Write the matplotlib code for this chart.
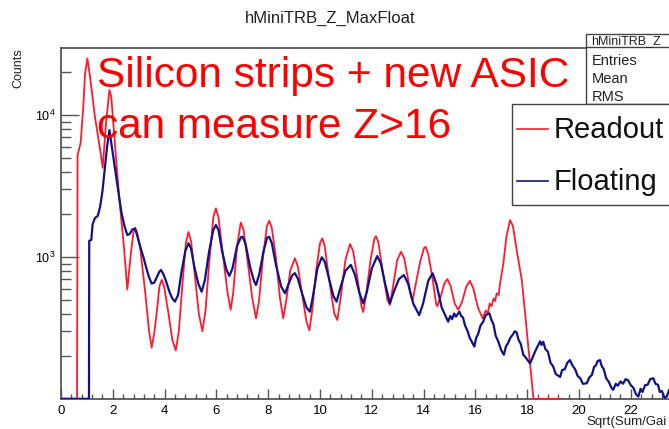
import numpy as np
import matplotlib
matplotlib.use("Agg")
import matplotlib.pyplot as plt
from matplotlib.patches import Rectangle
from matplotlib.lines import Line2D
from matplotlib.ticker import FixedLocator, MultipleLocator, NullFormatter

plt.rcParams['font.family'] = ['Liberation Sans', 'DejaVu Sans']
plt.rcParams['mathtext.fontset'] = 'custom'
plt.rcParams['mathtext.rm'] = 'Liberation Sans'
plt.rcParams['mathtext.it'] = 'Liberation Sans'

# ---- data: charge spectrum, Sqrt(Sum/Gain) vs counts ----
readout_x = [0.00, 0.62, 0.64, 0.76, 0.86, 0.93, 1.02, 1.12, 1.31, 1.51, 1.61, 1.74, 1.87, 1.94,
             2.02, 2.15, 2.28, 2.43, 2.56, 2.70, 2.80, 2.86, 2.93, 3.05, 3.24, 3.40, 3.50, 3.60,
             3.69, 3.80, 3.89, 3.98, 4.15, 4.30, 4.43, 4.55, 4.68, 4.82, 4.92, 5.02, 5.15, 5.32,
             5.46, 5.58, 5.72, 5.88, 5.98, 6.08, 6.25, 6.43, 6.55, 6.65, 6.80, 6.94, 7.05, 7.20,
             7.38, 7.53, 7.65, 7.80, 7.95, 8.04, 8.14, 8.30, 8.45, 8.58, 8.70, 8.85, 9.03, 9.15,
             9.30, 9.48, 9.59, 9.70, 9.85, 10.00, 10.09, 10.18, 10.35, 10.55, 10.67, 10.80, 10.98,
             11.16, 11.28, 11.45, 11.60, 11.67, 11.78, 11.95, 12.10, 12.16, 12.25, 12.42, 12.60,
             12.70, 12.82, 12.98, 13.13, 13.25, 13.40, 13.52, 13.58, 13.70, 13.88, 14.02, 14.08,
             14.18, 14.35, 14.48, 14.53, 14.65, 14.80, 14.92, 15.05, 15.20, 15.34, 15.48, 15.65,
             15.79, 15.92, 16.10, 16.28, 16.40, 16.48, 16.55, 16.62, 16.70, 16.76, 16.82, 16.90,
             16.95, 17.08, 17.20, 17.34, 17.45, 17.60, 17.79, 17.92, 18.04, 18.15, 18.24, 19.30]
readout_y = [0, 0, 5200, 6400, 11400, 19800, 25000, 18600, 9700, 5700, 4250, 8800, 15000, 13500,
             8750, 4330, 2260, 1180, 590, 1070, 1500, 1600, 1500, 1180, 590, 300, 230, 290,
             400, 620, 690, 620, 400, 260, 220, 300, 620, 1250, 1500, 1300, 800, 400,
             300, 420, 900, 1900, 2200, 1900, 1050, 560, 425, 560, 1200, 1750, 1550, 950,
             520, 370, 500, 1000, 1650, 1800, 1600, 980, 520, 370, 500, 800, 980, 850,
             560, 350, 305, 420, 800, 1250, 1355, 1200, 700, 400, 360, 520, 950,
             1235, 1100, 700, 450, 410, 540, 950, 1350, 1400, 1280, 800, 500,
             460, 620, 950, 1090, 980, 700, 520, 500, 650, 950, 1160, 1180,
             1050, 700, 470, 450, 520, 650, 700, 620, 470, 425, 480, 620,
             680, 600, 440, 370, 420, 400, 470, 450, 510, 490, 555, 540,
             650, 900, 1400, 1820, 1650, 1100, 690, 400, 235, 150, 0, 0]

floating_x = [0.00, 1.08, 1.09, 1.17, 1.22, 1.31, 1.42, 1.51, 1.60, 1.70, 1.78, 1.87, 1.95, 2.05,
              2.15, 2.25, 2.34, 2.45, 2.56, 2.65, 2.75, 2.86, 2.95, 3.05, 3.18, 3.30, 3.40, 3.50,
              3.60, 3.70, 3.80, 3.86, 3.95, 4.05, 4.20, 4.30, 4.40, 4.52, 4.65, 4.80, 4.92, 5.02,
              5.15, 5.30, 5.43, 5.55, 5.72, 5.88, 5.98, 6.08, 6.22, 6.38, 6.50, 6.62, 6.80, 6.95,
              7.01, 7.12, 7.30, 7.45, 7.53, 7.65, 7.82, 7.96, 8.04, 8.14, 8.30, 8.50, 8.65, 8.78,
              8.92, 9.03, 9.15, 9.30, 9.48, 9.61, 9.72, 9.90, 10.07, 10.18, 10.35, 10.52, 10.64,
              10.78, 10.98, 11.19, 11.35, 11.52, 11.67, 11.80, 12.00, 12.21, 12.35, 12.52, 12.70,
              12.85, 13.05, 13.24, 13.40, 13.60, 13.83, 13.98, 14.18, 14.35, 14.50, 14.70, 14.95,
              15.03, 15.10, 15.18, 15.25, 15.38, 15.45, 15.52, 15.60, 15.70, 15.78, 15.85, 15.96,
              16.03, 16.10, 16.20, 16.30, 16.40, 16.54, 16.62, 16.70, 16.78, 16.88, 17.00, 17.10,
              17.18, 17.25, 17.35, 17.45, 17.52, 17.59, 17.67, 17.75, 17.85, 17.95, 18.11, 18.20,
              18.30, 18.40, 18.50, 18.55, 18.62, 18.70, 18.80, 18.90, 19.00, 19.10, 19.27, 19.35,
              19.45, 19.55, 19.65, 19.75, 19.85, 19.95, 20.05, 20.15, 20.30, 20.40, 20.50, 20.58,
              20.65, 20.72, 20.81, 20.88, 20.95, 21.05, 21.15, 21.25, 21.32, 21.42, 21.50, 21.60,
              21.70, 21.80, 21.90, 22.00, 22.10, 22.20, 22.29, 22.38, 22.45, 22.55, 22.65, 22.75,
              22.87, 22.95, 23.05, 23.12, 23.20, 23.30, 23.39, 23.48, 23.60, 23.70, 23.80, 24.00,
              24.30, 24.60, 25.00]
floating_y = [0, 0, 1300, 1320, 1700, 1880, 1950, 2260, 2900, 4330, 6000, 7830, 6200, 4600,
              3490, 2600, 2030, 1650, 1430, 1450, 1560, 1590, 1400, 1200, 1000, 830, 720, 650,
              660, 720, 790, 810, 760, 680, 560, 510, 485, 540, 780, 1100, 1250, 1150,
              850, 650, 570, 680, 1100, 1550, 1680, 1550, 1100, 820, 735, 830, 1200, 1380,
              1390, 1250, 850, 680, 635, 750, 1100, 1370, 1390, 1250, 880, 620, 555, 640,
              740, 770, 700, 560, 440, 412, 520, 830, 995, 930, 700, 530, 485,
              600, 800, 880, 750, 560, 472, 560, 830, 1016, 900, 640, 472,
              570, 700, 747, 650, 470, 390, 470, 680, 768, 640, 440, 350,
              385, 365, 400, 380, 412, 385, 375, 330, 300, 270, 255, 234,
              270, 285, 330, 350, 390, 401, 360, 335, 280, 255, 220, 205,
              235, 245, 270, 285, 300, 295, 260, 245, 205, 195, 178, 195,
              215, 235, 255, 240, 253, 225, 215, 180, 170, 150, 143, 160,
              162, 180, 188, 172, 162, 145, 140, 128, 129, 142, 148, 168,
              172, 185, 188, 170, 163, 140, 132, 120, 116, 128, 124, 133,
              128, 138, 135, 125, 120, 108, 104, 118, 112, 125, 126, 138,
              140, 128, 126, 112, 114, 102, 104, 116, 112, 108, 110, 100,
              95, 105, 95]

x_ticks = [0, 2, 4, 6, 8, 10, 12, 14, 16, 18, 20, 22]
y_major = [1e3, 1e4]
y_labels = [r'$10^{3}$', r'$10^{4}$']
series_names = ['Readout', 'Floating']
stat_rows = ['Entries', 'Mean', 'RMS']

W, H = 669, 429
fig = plt.figure(figsize=(W / 100, H / 100), dpi=100)
fig.patch.set_facecolor('white')


def fx(px):
    return px / W


def fy(py):
    return 1 - py / H


X0, X1 = 0.0, 25.0
Y0, Y1 = 100.0, 2.965e4
left_px, top_px, bot_px = 61, 48, 399
right_px = left_px + (X1 - X0) * 25.9
ax = fig.add_axes([fx(left_px), fy(bot_px), (right_px - left_px) / W, (bot_px - top_px) / H])
ax.set_yscale('log')
ax.set_xlim(X0, X1)
ax.set_ylim(Y0, Y1)

red = '#ff1a2e'
blue = '#121288'
ry = np.clip(np.array(readout_y, dtype=float), Y0 * 1.003, None)
by = np.clip(np.array(floating_y, dtype=float), Y0 * 1.003, None)
ax.plot(readout_x, ry, color=red, lw=1.3, zorder=3)
ax.plot(floating_x, by, color=blue, lw=1.6, zorder=4)

frame_col = '#555555'
for s in ax.spines.values():
    s.set_color(frame_col)
    s.set_linewidth(1.3)

ax.xaxis.set_major_locator(FixedLocator(x_ticks))
ax.xaxis.set_minor_locator(MultipleLocator(0.4))
ax.set_xticklabels([str(t) for t in x_ticks])
ax.yaxis.set_major_locator(FixedLocator(y_major))
ax.set_yticklabels(y_labels)
ax.yaxis.set_minor_locator(FixedLocator([m * d for d in (100, 1000, 10000) for m in range(2, 10)]))
ax.yaxis.set_minor_formatter(NullFormatter())
ax.tick_params(axis='x', which='major', direction='in', length=7.5, width=1.0, color=frame_col,
               labelsize=9.5, pad=4, top=False)
ax.tick_params(axis='x', which='minor', direction='in', length=3.8, width=1.0, color=frame_col, top=False)
ax.tick_params(axis='y', which='major', direction='in', length=13, width=1.0, color=frame_col,
               labelsize=9, pad=4, right=False)
ax.tick_params(axis='y', which='minor', direction='in', length=7, width=1.0, color=frame_col, right=False)

# titles and axis captions (the canvas ends at the right, so the visible part is drawn)
fig.text(fx(330), fy(18), 'hMiniTRB_Z_MaxFloat', ha='center', va='center', fontsize=12, color='#222222')
fig.text(fx(18), fy(48), 'Counts', rotation=90, ha='center', va='top', fontsize=9, color='#222222')
fig.text(fx(586), fy(422), 'Sqrt(Sum/Gai', ha='left', va='center', fontsize=9.5, color='#222222')

# statistics box
stat_left, stat_top, stat_bot = 586, 34, 104
fig.add_artist(Rectangle((fx(stat_left), fy(stat_bot)), (W - stat_left + 20) / W, (stat_bot - stat_top) / H,
                         transform=fig.transFigure, facecolor='white', edgecolor='#444444', lw=1.0, zorder=5))
fig.add_artist(Line2D([fx(stat_left), fx(W + 10)], [fy(47), fy(47)], transform=fig.transFigure,
                      color='#444444', lw=1.0, zorder=6))
fig.text(fx(591), fy(41), 'hMiniTRB_Z', ha='left', va='center', fontsize=9, color='#222222', zorder=7)
for i, row in enumerate(stat_rows):
    fig.text(fx(592), fy(61 + 18 * i), row, ha='left', va='center', fontsize=10.5, color='#222222', zorder=7)

# legend box
leg_left, leg_top, leg_bot = 512, 104, 205
fig.add_artist(Rectangle((fx(leg_left), fy(leg_bot)), (W - leg_left + 20) / W, (leg_bot - leg_top) / H,
                         transform=fig.transFigure, facecolor='white', edgecolor='#444444', lw=1.0, zorder=8))
for name, col, ly in zip(series_names, [red, blue], [129, 181]):
    fig.add_artist(Line2D([fx(517), fx(548)], [fy(ly), fy(ly)], transform=fig.transFigure,
                          color=col, lw=1.2, zorder=9))
    fig.text(fx(554), fy(ly + 1), name, ha='left', va='center', fontsize=21, color='#111111', zorder=9)

# annotation
ax.text(fx(97), fy(87), 'Silicon strips + new ASIC', transform=fig.transFigure, ha='left',
        va='baseline', fontsize=30.5, color='#ff0000', zorder=10)
ax.text(fx(97), fy(138), 'can measure Z>16', transform=fig.transFigure, ha='left',
        va='baseline', fontsize=30.5, color='#ff0000', zorder=10)

fig.savefig('out.png', dpi=100, facecolor='white')
